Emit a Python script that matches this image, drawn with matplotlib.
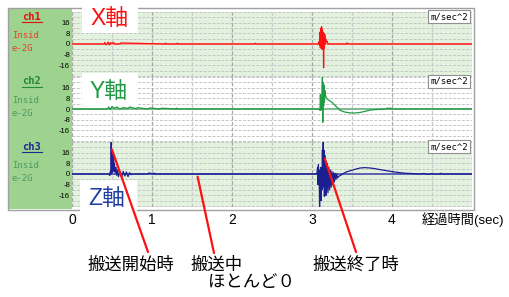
import numpy as np
import matplotlib.pyplot as plt
from matplotlib.patches import Rectangle, ConnectionPatch
from matplotlib.lines import Line2D

plt.rcParams['font.family'] = ['Liberation Sans', 'Noto Sans CJK JP']

# ch1 : X軸 (time [sec], acc [m/sec^2])
x_t = [0.00, 0.40, 0.41, 0.42, 0.44, 0.45, 0.47, 0.48, 0.50, 0.52, 0.53, 0.60, 0.61,
       1.16, 1.17, 1.18, 1.31, 1.32, 1.33, 2.28, 2.29, 2.30,
       3.08, 3.090, 3.095, 3.100, 3.105, 3.110, 3.115, 3.120, 3.125, 3.130, 3.135,
       3.140, 3.145, 3.150, 3.155, 3.160, 3.165, 3.170, 3.180, 3.190, 3.200,
       3.430, 3.440, 3.450, 5.00]
x_v = [0, 0, 1.2, -0.6, 0, 1.5, -0.8, 1.0, 0.4, 1.2, 0, 0, 0.8,
       0, 0.7, 0, 0, 0.7, 0, 0, 0.6, 0,
       0, 2, -1, 9, -3, 12, 2, 13, -4, 11, 1,
       9, -18, 8, -3, 7, 0, 4, 1.5, 2, 0,
       0, 0.9, 0, 0]

# ch2 : Y軸
y_t = [0.00, 0.44, 0.46, 0.48, 0.50, 0.53, 0.56, 0.60, 0.64, 0.70,
       0.72, 0.80, 0.82, 0.95, 0.97, 1.10, 1.12, 1.30, 1.31, 1.32,
       3.08, 3.100, 3.105, 3.110, 3.115, 3.120, 3.130, 3.135, 3.140, 3.145,
       3.150, 3.155, 3.160, 3.170, 3.180, 3.200, 3.250, 3.300, 3.350, 3.410,
       3.480, 3.540, 3.600, 3.660, 3.730, 3.790, 3.850, 3.920, 3.950, 3.960,
       3.980, 3.990, 4.020, 5.00]
y_v = [0, 0, 1.5, -0.5, 2, 0.5, 1.5, 0, 1, 0.5,
       1.5, 0.3, 1, 0, 0.8, 0, 0.6, 0, 0.7, 0,
       0, -1, 11, -1, 8, 0, 24, -10, 20, 2,
       18, 5, 14, 10, 8, 7, 5, 2, -1, -2.3,
       -3, -3, -2.6, -1.8, -0.8, -0.5, -0.2, 0, 0.8, 0,
       0.8, 0, 0, 0]

# ch3 : Z軸
z_t = [0.00, 0.46, 0.47, 0.480, 0.485, 0.490, 0.495, 0.500, 0.505, 0.510,
       0.515, 0.520, 0.525, 0.530, 0.540, 0.550, 0.560, 0.570, 0.580, 0.600,
       0.620, 0.640, 0.660, 0.680, 0.700, 0.720, 0.740, 0.760,
       0.95, 0.96, 1.02, 1.03, 1.04,
       3.060, 3.070, 3.075, 3.080, 3.090, 3.095, 3.100, 3.105, 3.110, 3.115,
       3.120, 3.125, 3.130, 3.135, 3.140, 3.145, 3.150, 3.155, 3.160, 3.165,
       3.170, 3.180, 3.190, 3.200, 3.210, 3.220, 3.230, 3.240, 3.250, 3.260,
       3.270, 3.280, 3.290, 3.300, 3.310, 3.320, 3.340, 3.360, 3.380, 3.410,
       3.440, 3.480, 3.540, 3.600, 3.660, 3.730, 3.790, 3.850, 3.920, 3.980,
       4.050, 4.100, 4.160, 4.230, 4.290, 4.350, 4.400, 4.450, 4.500, 4.520,
       4.600, 4.610, 4.620, 5.00]
z_v = [0, 0, -1, 2, -0.5, 24, 3, 18, 1, 15,
       4, 12, 2, 8, 1, 5, -1, 3, -2, 2,
       -2.5, 2, -1.5, 1.5, -2, 1, -0.5, 0,
       0, 0.8, 0, 0.7, 0,
       0, 5, -8, 7, -4, -25, 3, -18, 5, -20,
       4, -12, 18, -10, 24, -8, 18, -17, 14, -16,
       10, -16, 8, -14, 5, -12, 3, -10, 2, -8,
       1, -6, 0.5, -4, 0, -3, -1.5, -1, 0, 1,
       1.8, 2.5, 3.6, 4.5, 4.8, 4.5, 4, 3.3, 2.6, 2,
       1.4, 1, 0.6, 0.4, 0.2, 0, 0.4, -0.3, 0.3, 0,
       0, 0.6, 0, 0]

ch_names = ['ch1', 'ch2', 'ch3']
axis_names = ['X軸', 'Y軸', 'Z軸']
y_ticks = [16, 8, 0, -8, -16]
x_ticks = [0, 1, 2, 3, 4]
unit = 'm/sec^2'
x_label = '経過時間(sec)'
# (time, value on ch3) where each note points to
note_text = ['搬送開始時', '搬送中', '搬送終了時']
note_t = [0.50, 1.57, 3.16]
note_v = [18.3, -2.0, 11.5]

W, H = 510, 297
fig = plt.figure(figsize=(W / 100, H / 100), dpi=100)


def rect(x0, y0, x1, y1):
    return [x0 / W, 1 - y1 / H, (x1 - x0) / W, (y1 - y0) / H]


def fp(x, y):
    return (x / W, 1 - y / H)


# left label panel
lp = fig.add_axes(rect(9, 9, 72, 209))
lp.set_facecolor('#9dd28f')
lp.set_xticks([])
lp.set_yticks([])
for s in lp.spines.values():
    s.set_visible(False)

ts = [x_t, y_t, z_t]
vs = [x_v, y_v, z_v]
sig_colors = ['#ff1010', '#1f9a45', '#1c1f8f']
zero_colors = ['#f29a94', '#5aa872', '#3a3aa5']
bg_colors = ['#e3f1df', '#ffffff', '#e3f1df']
name_colors = ['#e01010', '#1f8a3a', '#1c2a8f']
insid_colors = ['#e84030', '#4f9a66', '#4f9a66']
tops = [11.5, 76.5, 141.5]

axes = []
for i in range(3):
    ax = fig.add_axes(rect(72, tops[i], 472, tops[i] + 65))
    ax.set_facecolor(bg_colors[i])
    ax.set_xlim(0, 5)
    ax.set_ylim(-24.5, 24.5)
    for g in np.arange(-24, 25, 4):
        if g != 0:
            ax.axhline(g, color='#c6c6c6', lw=0.7, ls=(0, (3, 1.5)), zorder=1)
    for g in np.arange(0, 5, 0.5):
        c = '#a8a8a8' if g % 1 == 0 else '#cacaca'
        ax.axvline(g, color=c, lw=0.9, ls=(0, (3, 1.5)), zorder=1)
    ax.axhline(0, color=zero_colors[i], lw=1.4 if i == 0 else 1.1, zorder=2)
    ax.plot(ts[i], vs[i], color=sig_colors[i], lw=0.9, zorder=3)
    for s in ax.spines.values():
        s.set_visible(False)
    ax.set_yticks(y_ticks)
    ax.set_yticklabels([str(v) for v in y_ticks], fontsize=5.5)
    ax.tick_params(axis='y', length=0, pad=1.5)
    ax.set_xticks([])
    axes.append(ax)

    yc = tops[i] + 5
    fig.text(*fp(32, yc), ch_names[i], color=name_colors[i], fontsize=7.5,
             fontweight='bold', family='DejaVu Sans Mono', ha='center', va='center')
    fig.add_artist(Line2D([22 / W, 42 / W], [1 - (yc + 5) / H] * 2,
                          color=name_colors[i], lw=0.8))
    fig.text(*fp(12, tops[i] + 24), 'Insid', color=insid_colors[i], fontsize=6.5,
             family='DejaVu Sans Mono', ha='left', va='center')
    fig.text(*fp(12, tops[i] + 37), 'e-2G', color=insid_colors[i], fontsize=6.5,
             family='DejaVu Sans Mono', ha='left', va='center')
    fig.text(*fp(468, yc), unit, fontsize=6.5, family='DejaVu Sans Mono',
             ha='right', va='center',
             bbox=dict(boxstyle='square,pad=0.25', fc='white', ec='#909090', lw=0.8))

ax3 = axes[2]
ax3.set_xticks(x_ticks)
ax3.set_xticklabels([str(v) for v in x_ticks], fontsize=10)
ax3.tick_params(axis='x', length=0, pad=5)
fig.text(*fp(422, 220), x_label, fontsize=9.5, ha='left', va='center')

# outer frame
fig.add_artist(Rectangle(fp(8, 210), 466 / W, 202 / H, transform=fig.transFigure,
                         fill=False, ec='#a0a0a0', lw=1.0, zorder=2))

# axis name boxes
name_boxes = [(82, 0, 138, 33), (82, 73, 138, 106), (80, 180, 137, 222)]
name_pos = [(110, 18), (109, 91), (107, 198)]
for i in range(3):
    x0, y0, x1, y1 = name_boxes[i]
    fig.add_artist(Rectangle(fp(x0, y1), (x1 - x0) / W, (y1 - y0) / H,
                             transform=fig.transFigure, fc='white', ec='none', zorder=5))
    fig.text(*fp(*name_pos[i]), axis_names[i], color=sig_colors[i] if i < 2 else '#2040a0',
             fontsize=16.5, ha='center', va='center', zorder=6)

# notes
note_end = [(148, 252), (214, 253), (356, 252)]
for i in range(3):
    con = ConnectionPatch(xyA=(note_t[i], note_v[i]), coordsA=ax3.transData,
                          xyB=fp(*note_end[i]), coordsB=fig.transFigure,
                          color='#ff1010', lw=1.6)
    con.set_zorder(7)
    fig.add_artist(con)

fig.text(*fp(131, 265), note_text[0], fontsize=12.5, ha='center', va='center')
fig.text(*fp(190, 265), note_text[1], fontsize=12.5, ha='left', va='center')
fig.text(*fp(208, 283), 'ほとんど０', fontsize=12.5, ha='left', va='center')
fig.text(*fp(356, 265), note_text[2], fontsize=12.5, ha='center', va='center')

fig.savefig('out.png', dpi=100)
